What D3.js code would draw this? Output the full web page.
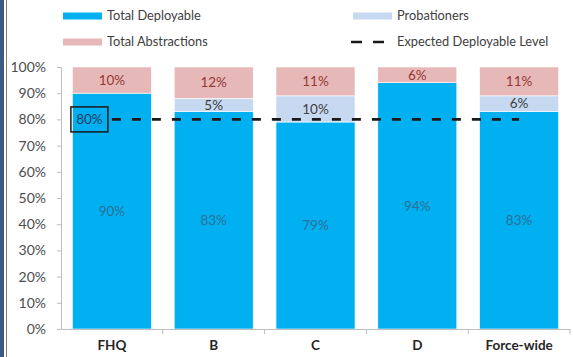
<!DOCTYPE html>
<html>
<head>
<meta charset="utf-8">
<script src="https://cdn.jsdelivr.net/npm/d3@7"></script>
<style>
  html, body { margin: 0; padding: 0; background: #fff; }
  svg { display: block; font-family: Lato, "Open Sans", sans-serif; }
</style>
</head>
<body>
<svg id="chart" width="573" height="357"></svg>
<script>
// Staffing breakdown per area (percent of establishment)
const categories = ["FHQ", "B", "C", "D", "Force-wide"];
const deployable = [90, 83, 79, 94, 83];
const probationers = [0, 5, 10, 0, 6];
const abstractions = [10, 12, 11, 6, 11];
const expectedLevel = 80;
const yTicks = [0, 10, 20, 30, 40, 50, 60, 70, 80, 90, 100];

const seriesNames = ["Total Deployable", "Probationers", "Total Abstractions"];
const seriesColors = ["#00B0F0", "#C6D9F1", "#E6B9B8"];
const labelColors = ["#2F6E97", "#404040", "#953735"];

const svg = d3.select("#chart");
const W = 573, H = 357;
const margin = { left: 61, right: 3, top: 67, bottom: 28 };

// frame strip on the left edge
svg.append("rect").attr("x", 0).attr("y", 0).attr("width", 4).attr("height", H).attr("fill", "#3B5A86");
svg.append("line").attr("x1", 6.5).attr("x2", 6.5).attr("y1", 0).attr("y2", H)
  .attr("stroke", "#7F7F7F").attr("stroke-width", 1);

const x = d3.scaleBand().domain(categories).range([margin.left, 570]).paddingInner(0.224).paddingOuter(0.112);
const xBoundary = d3.scaleBand().domain(categories).range([margin.left, 570]).padding(0);
const y = d3.scaleLinear().domain([0, 100]).range([329, 67]);

const rows = categories.map((c, i) => ({
  cat: c, values: [deployable[i], probationers[i], abstractions[i]]
}));
const stack = d3.stack().keys([0, 1, 2]).value((d, k) => d.values[k]);
const layers = stack(rows);

const g = svg.append("g");
layers.forEach((layer, k) => {
  g.selectAll(null).data(layer).enter().append("rect")
    .attr("x", d => x(d.data.cat))
    .attr("width", x.bandwidth())
    .attr("y", d => y(d[1]))
    .attr("height", d => y(d[0]) - y(d[1]))
    .attr("fill", seriesColors[k])
    .attr("stroke", "#ffffff").attr("stroke-width", 0.6);
  g.selectAll(null).data(layer.filter(d => d[1] - d[0] > 0)).enter().append("text")
    .attr("x", d => x(d.data.cat) + x.bandwidth() / 2)
    .attr("y", d => y((d[0] + d[1]) / 2))
    .attr("dy", "0.35em")
    .attr("text-anchor", "middle")
    .attr("font-size", 13.5)
    .attr("fill", labelColors[k])
    .text(d => (d[1] - d[0]) + "%");
});

// y axis
const yAxis = d3.axisLeft(y).tickValues(yTicks).tickFormat(d => d + "%").tickSize(4).tickPadding(11);
const ya = svg.append("g").attr("transform", `translate(${margin.left},0)`).call(yAxis);
ya.select(".domain").attr("stroke", "#BFBFBF");
ya.selectAll(".tick line").attr("stroke", "#BFBFBF");
ya.selectAll(".tick text").attr("font-size", 14).attr("fill", "#4D4D4D").attr("font-family", "Lato, sans-serif");

// x axis with ticks at category boundaries
const xa = svg.append("g").attr("transform", "translate(0,329)");
xa.append("line").attr("x1", margin.left).attr("x2", 570).attr("y1", 0.5).attr("y2", 0.5).attr("stroke", "#BFBFBF");
const bounds = categories.map(c => xBoundary(c) + xBoundary.bandwidth());
xa.selectAll(null).data(bounds).enter().append("line")
  .attr("x1", d => d).attr("x2", d => d).attr("y1", 0).attr("y2", 5).attr("stroke", "#BFBFBF");
xa.selectAll(null).data(categories).enter().append("text")
  .attr("x", d => xBoundary(d) + xBoundary.bandwidth() / 2)
  .attr("y", 21)
  .attr("text-anchor", "middle")
  .attr("font-size", 13.5).attr("font-weight", "bold").attr("fill", "#262626")
  .text(d => d);

// expected deployable level
const lineData = categories.map(c => ({ cat: c, v: expectedLevel }));
const line = d3.line().x(d => x(d.cat) + x.bandwidth() / 2).y(d => y(d.v));
svg.append("path").datum(lineData).attr("d", line)
  .attr("fill", "none").attr("stroke", "#1a1a1a").attr("stroke-width", 2.6)
  .attr("stroke-dasharray", "9,11");

const lx = x(categories[0]) + x.bandwidth() / 2;
const box = svg.append("g");
box.append("rect").attr("x", lx - 41).attr("y", y(expectedLevel) - 12.5).attr("width", 37).attr("height", 25)
  .attr("fill", "none").attr("stroke", "#1a1a1a").attr("stroke-width", 1.5);
box.append("text").attr("x", lx - 22.5).attr("y", y(expectedLevel)).attr("dy", "0.35em")
  .attr("text-anchor", "middle").attr("font-size", 13.5).attr("fill", "#1F3A5A").text(expectedLevel + "%");

// legend
const legend = svg.append("g").attr("font-size", 12.8).attr("fill", "#404040");
const legendItems = [
  { name: seriesNames[0], color: seriesColors[0], x: 63, y: 16, type: "rect" },
  { name: seriesNames[2], color: seriesColors[2], x: 63, y: 42, type: "rect" },
  { name: seriesNames[1], color: seriesColors[1], x: 353, y: 16, type: "rect" },
  { name: "Expected Deployable Level", color: "#1a1a1a", x: 353, y: 42, type: "dash" }
];
legendItems.forEach(it => {
  if (it.type === "rect") {
    legend.append("rect").attr("x", it.x).attr("y", it.y - 3.5).attr("width", 39).attr("height", 7).attr("fill", it.color);
  } else {
    legend.append("line").attr("x1", it.x - 2).attr("x2", it.x + 31).attr("y1", it.y).attr("y2", it.y)
      .attr("stroke", it.color).attr("stroke-width", 2.6).attr("stroke-dasharray", "11,11");
  }
  legend.append("text").attr("x", it.x + 44).attr("y", it.y).attr("dy", "0.35em").attr("fill", "#404040").text(it.name);
});
</script>
</body>
</html>
